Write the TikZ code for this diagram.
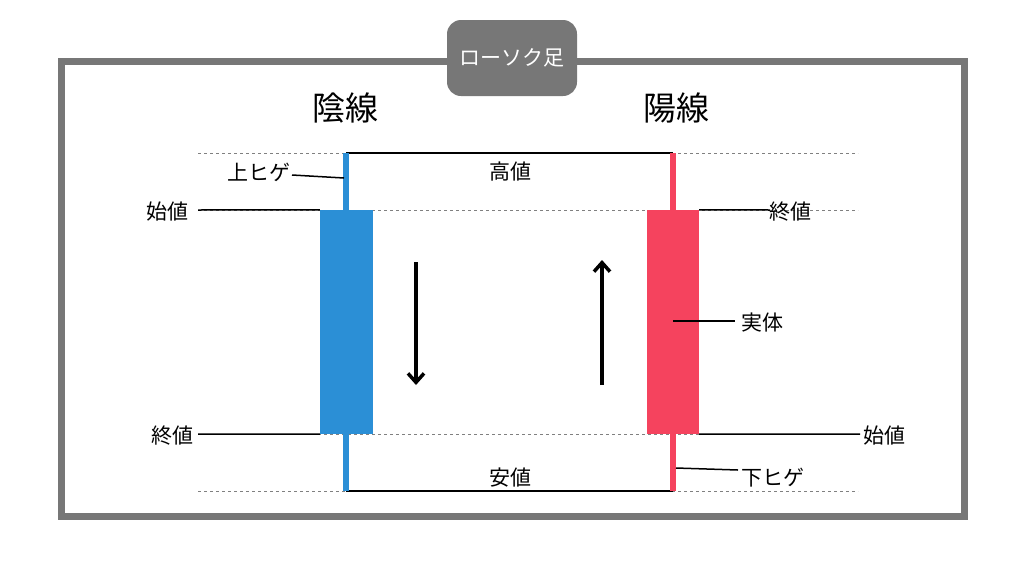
\documentclass[tikz,border=0pt]{standalone}
\usepackage{fontspec}
\setmainfont{Noto Sans CJK JP}
\usetikzlibrary{arrows.meta}
\definecolor{frame}{HTML}{777777}
\definecolor{blueC}{HTML}{2B8FD6}
\definecolor{redC}{HTML}{F5435E}
\begin{document}
\begin{tikzpicture}[x=1pt,y=-1pt,
  lbl/.style={font=\fontsize{21}{21}\selectfont,inner sep=1pt},
  big/.style={font=\fontsize{33}{33}\selectfont},
  dashln/.style={gray,dashed,line width=1pt},
  lead/.style={black,line width=1.5pt},
  arr/.style={line width=4.5pt,-{Straight Barb[length=9pt,width=16pt,line width=3.5pt]}}]
\useasboundingbox (0,0) rectangle (1024,576);
\draw[frame,line width=7pt] (61,61) rectangle (964,516);
\node[fill=frame,rounded corners=14pt,minimum width=130pt,minimum height=76pt,text=white,font=\fontsize{21}{21}\selectfont] (title) at (512,58) {ローソク足};
\node[big] (in) at (345,108) {陰線};
\node[big] (yo) at (676,108) {陽線};
% dashed levels
\foreach \y/\n in {153/h,210/o,434/c,491/l}{
  \coordinate (L\n) at (198,\y); \coordinate (R\n) at (858,\y);
  \draw[dashln] (L\n) -- (R\n);}
% high/low lines
\coordinate (bh) at (346,153); \coordinate (rh) at (673,153);
\coordinate (bl) at (346,491); \coordinate (rl) at (673,491);
\draw[black,line width=2pt] (bh) -- (rh);
\draw[black,line width=2pt] (bl) -- (rl);
% candles
\draw[blueC,line width=6pt] (bh) -- (bl);
\node[fill=blueC,minimum width=53pt,minimum height=224pt,inner sep=0] (bb) at (346.5,322) {};
\draw[redC,line width=6pt] (rh) -- (rl);
\node[fill=redC,minimum width=52pt,minimum height=224pt,inner sep=0] (rb) at (673,322) {};
% arrows
\coordinate (a1) at (416,262); \coordinate (a2) at (416,385);
\coordinate (b1) at (602,385); \coordinate (b2) at (602,260);
\draw[arr] (a1) -- (a2);
\draw[arr] (b1) -- (b2);
% labels
\node[lbl] (hi) at (510,172) {高値};
\node[lbl] (lo) at (510,478) {安値};
\node[lbl,anchor=east] (uh) at (292,172) {上ヒゲ};
\draw[lead] (292,175) -- (344,178);
\node[lbl,anchor=east] (so) at (190,212) {始値};
\draw[lead] (Lo) -- (bb.north west);
\node[lbl,anchor=east] (sc) at (195,436) {終値};
\draw[lead] (Lc) -- (bb.south west);
\node[lbl,anchor=west] (ro) at (768,212) {終値};
\draw[lead] (rb.north east) -- (770,210);
\node[lbl,anchor=west] (rt) at (740,323) {実体};
\draw[lead] (673,321) -- (735,321);
\node[lbl,anchor=west] (rc) at (862,436) {始値};
\draw[lead] (rb.south east) -- (860,434);
\node[lbl,anchor=west] (dh) at (740,478) {下ヒゲ};
\draw[lead] (676,468) -- (738,470);
\end{tikzpicture}
\end{document}
